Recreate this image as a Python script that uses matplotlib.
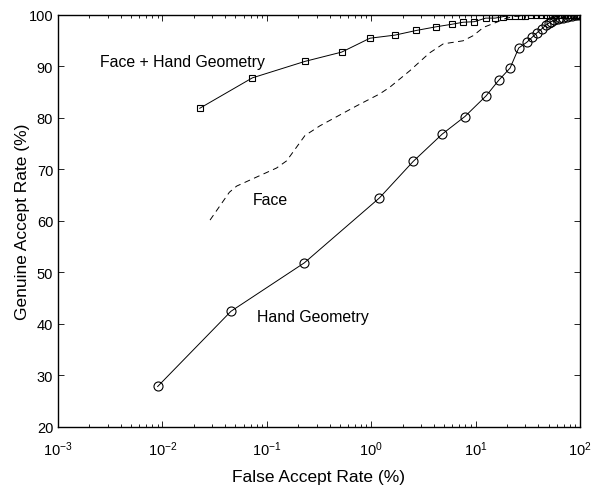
import numpy as np
import matplotlib.pyplot as plt

plt.rcParams['font.family'] = ['Liberation Sans', 'DejaVu Sans']
plt.rcParams['mathtext.fontset'] = 'custom'
plt.rcParams['mathtext.rm'] = 'Liberation Sans'
plt.rcParams['mathtext.it'] = 'Liberation Sans'
plt.rcParams['lines.scale_dashes'] = False

# Face + Hand Geometry (squares)
fh_far = [0.0228, 0.0727, 0.232, 0.521, 0.974, 1.69, 2.70, 4.15, 5.9, 7.6, 9.7,
          12.5, 15.4, 18.5, 21, 24, 27, 30, 34, 38, 42, 47, 52, 58, 64, 70, 76,
          82, 88, 94, 100]
fh_gar = [81.8, 87.7, 90.9, 92.7, 95.4, 96.0, 96.9, 97.6, 98.1, 98.5, 98.6,
          99.3, 99.3, 99.6, 99.8, 99.8, 99.8, 99.8, 99.9, 99.9, 99.9, 100, 100,
          100, 100, 100, 100, 100, 100, 100, 100]

# Face (dashed)
face_far = [0.0286, 0.0438, 0.0515, 0.124, 0.155, 0.232, 0.323, 0.73, 1.21, 1.51,
            2.35, 3.6, 4.9, 7.6, 9.5, 11.9, 15.9, 18.5, 23, 35, 60, 100]
face_gar = [60.1, 65.5, 66.7, 70.2, 71.6, 76.5, 78.4, 82.3, 84.6, 85.9,
            89.1, 92.5, 94.3, 94.9, 95.9, 97.5, 98.5, 99.1, 99.6, 99.9, 100, 100]

# Hand Geometry (circles)
hg_far = [0.00901, 0.0454, 0.229, 1.2, 2.53, 4.8, 7.9, 12.6, 16.6, 21.4, 25.9,
          30.9, 34.9, 39, 43, 46.9, 50, 53, 57, 61, 65, 69, 74.6, 79, 84, 89,
          94, 100]
hg_gar = [27.8, 42.4, 51.8, 64.4, 71.5, 76.8, 80.2, 84.2, 87.2, 89.6, 93.5,
          94.6, 95.6, 96.5, 97.2, 97.9, 98.3, 98.6, 98.9, 99.1, 99.3, 99.4, 99.5,
          99.7, 99.8, 99.9, 100, 100]

fig = plt.figure(figsize=(6.01, 4.89), dpi=100)
ax = fig.add_axes([0.0965, 0.1254, 0.8685, 0.8429])

ax.plot(fh_far, fh_gar, 'k-', lw=0.7, marker='s', ms=5, mfc='none', mew=0.8)
ax.plot(face_far, face_gar, 'k', lw=0.7, dashes=(4.3, 3.2))
ax.plot(hg_far, hg_gar, 'k-', lw=0.7, marker='o', ms=6.5, mfc='none', mew=0.8)

ax.set_xscale('log')
ax.set_xlim(1e-3, 1e2)
ax.set_ylim(20, 100)
ax.set_yticks(np.arange(20, 101, 10))

ax.tick_params(which='both', direction='in', top=True, right=True, labelsize=10.5)
ax.tick_params(which='major', length=4, width=0.6)
ax.tick_params(which='minor', length=2.5, width=0.6)
ax.tick_params(axis='x', which='major', pad=9)
for s in ax.spines.values():
    s.set_linewidth(1.0)

ax.set_xlabel('False Accept Rate (%)', fontsize=12.5, labelpad=8)
ax.set_ylabel('Genuine Accept Rate (%)', fontsize=12.5, labelpad=-1)

# curve labels
ax.text(0.0025, 90.9, 'Face + Hand Geometry', fontsize=11.4, ha='left', va='center')
ax.text(0.073, 64.1, 'Face', fontsize=11.4, ha='left', va='center')
ax.text(0.08, 41.4, 'Hand Geometry', fontsize=11.4, ha='left', va='center')

fig.savefig('out.png', dpi=100)
